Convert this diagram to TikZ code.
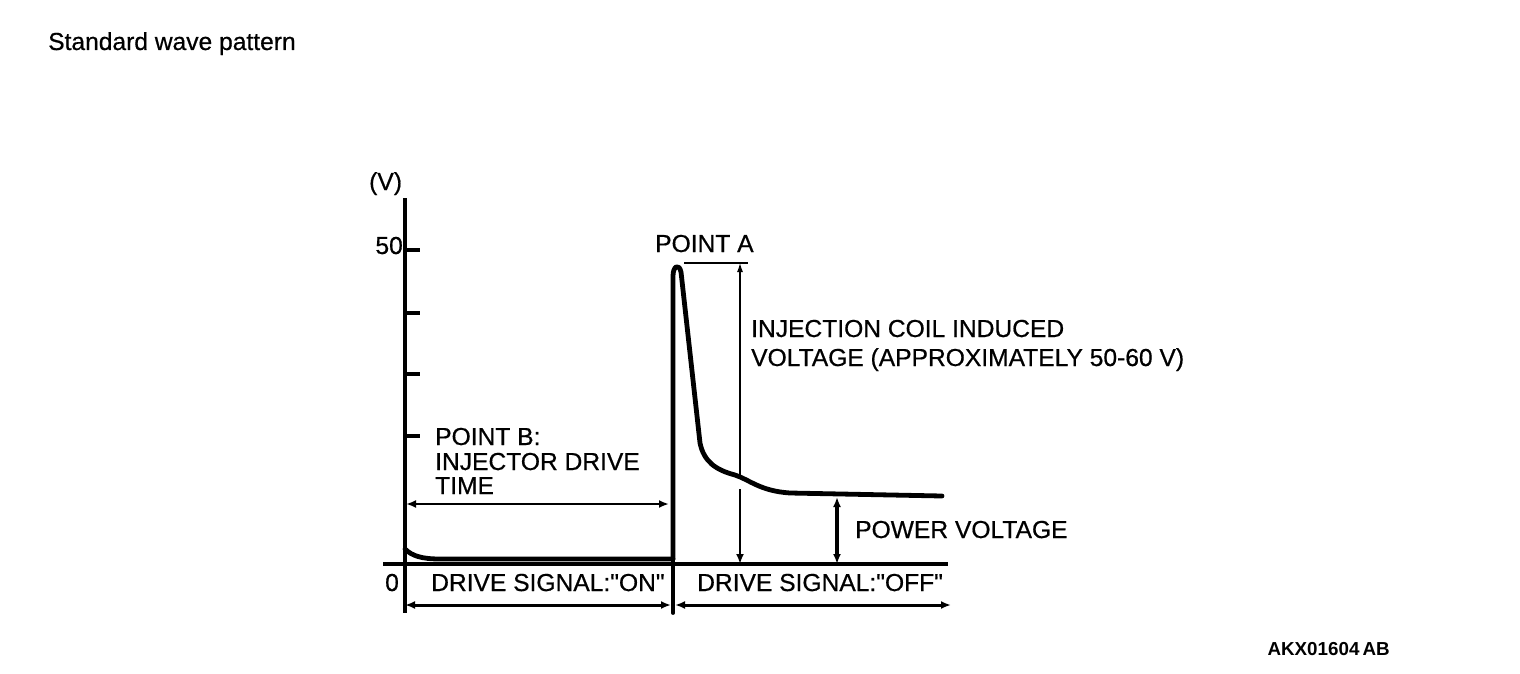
\documentclass[tikz,border=0pt]{standalone}
\usepackage{fontspec}
\setmainfont{Liberation Sans}
\newfontfamily\heavyfont{Liberation Sans}[FakeBold=0.6]
\usetikzlibrary{arrows.meta}
\begin{document}
\begin{tikzpicture}[x=1pt,y=-1pt,
  lbl/.style={inner sep=0pt,anchor=base west,font=\heavyfont\fontsize{24.6}{25.5}\selectfont},
  axisline/.style={line width=3.2pt},
  wave/.style={line width=4.8pt,line cap=round,line join=round},
  thin/.style={line width=1.2pt},
  dim/.style={line width=3pt,{Latex[length=10pt,width=8pt]}-{Latex[length=10pt,width=8pt]}},
  dimone/.style={line width=2.6pt,-{Latex[length=10pt,width=8pt]}},
  upone/.style={line width=1.2pt,-{Latex[length=9pt,width=6pt]}}]
\useasboundingbox (0,0) rectangle (1520,674);
\fill[white] (0,0) rectangle (1520,674);

% title
\node[lbl,font=\heavyfont\fontsize{24.6}{26}\selectfont] (title) at (48,50) {Standard wave pattern};
\node[inner sep=0pt,anchor=base east,font=\bfseries\fontsize{18.8}{20}\selectfont] (code) at (1390,655) {AKX01604\,AB};

% axes
\coordinate (ytop) at (405,198);
\coordinate (ybot) at (405,613);
\draw[axisline] (ytop) -- (ybot);
\coordinate (xl) at (383,564);
\coordinate (xr) at (948,564);
\draw[axisline,line width=3.8pt] (xl) -- (xr);
\foreach \yy in {250,313,374,436}{
  \draw[axisline] (405,\yy) -- (420,\yy);
}
\node[lbl,anchor=base west] (vunit) at (369,190) {(V)};
\node[lbl,anchor=base east] (fifty) at (403,254) {50};
\node[lbl] (zero) at (385,591) {0};

% divider / spike
\coordinate (dtop) at (673,275);
\coordinate (dbot) at (673,613);
\draw[wave,line width=3.8pt] (dtop) -- (dbot);

% waveform
\draw[wave] (405,549) .. controls (412,556) and (422,559) .. (440,559)
  -- (673,559);
\draw[wave] (673,559) -- (673,276) .. controls (673,266) and (679,263) .. (681,272)
  -- (700,443)
  .. controls (704,462) and (716,470) .. (735,475)
  .. controls (750,480) and (760,491) .. (790,493)
  -- (942,496);

% drive signal arrows
\coordinate (onl) at (405,605);
\coordinate (onr) at (671,605);
\coordinate (offl) at (675,605);
\coordinate (offr) at (951,605);
\draw[dim] (onl) -- (onr);
\draw[dim] (offl) -- (offr);
\node[lbl] (on) at (431,591) {DRIVE SIGNAL:\char34 ON\char34};
\node[lbl] (off) at (697,591) {DRIVE SIGNAL:\char34 OFF\char34};

% point B
\coordinate (bl) at (406,504);
\coordinate (br) at (669,504);
\draw[dim,line width=2.6pt] (bl) -- (br);
\node[lbl] (pb1) at (435,445) {POINT B:};
\node[lbl] (pb2) at (435,470) {INJECTOR DRIVE};
\node[lbl] (pb3) at (435,494) {TIME};

% point A
\node[lbl] (pa) at (655,252) {POINT A};
\coordinate (ha) at (684,263);
\coordinate (hb) at (748,263);
\draw[thin] (ha) -- (hb);
\coordinate (ia) at (740,475);
\coordinate (ib) at (740,263);
\draw[upone] (ia) -- (ib);
\coordinate (ic) at (740,489);
\coordinate (id) at (740,564);
\draw[dimone] (ic) -- (id);
\node[lbl] (inj1) at (751,337) {INJECTION COIL INDUCED};
\node[lbl] (inj2) at (751,366) {VOLTAGE (APPROXIMATELY 50-60 V)};

% power voltage
\coordinate (pt) at (837,497);
\coordinate (pbm) at (837,564);
\draw[dim,line width=3.4pt] (pt) -- (pbm);
\node[lbl] (pv) at (855,538) {POWER VOLTAGE};
\end{tikzpicture}
\end{document}
